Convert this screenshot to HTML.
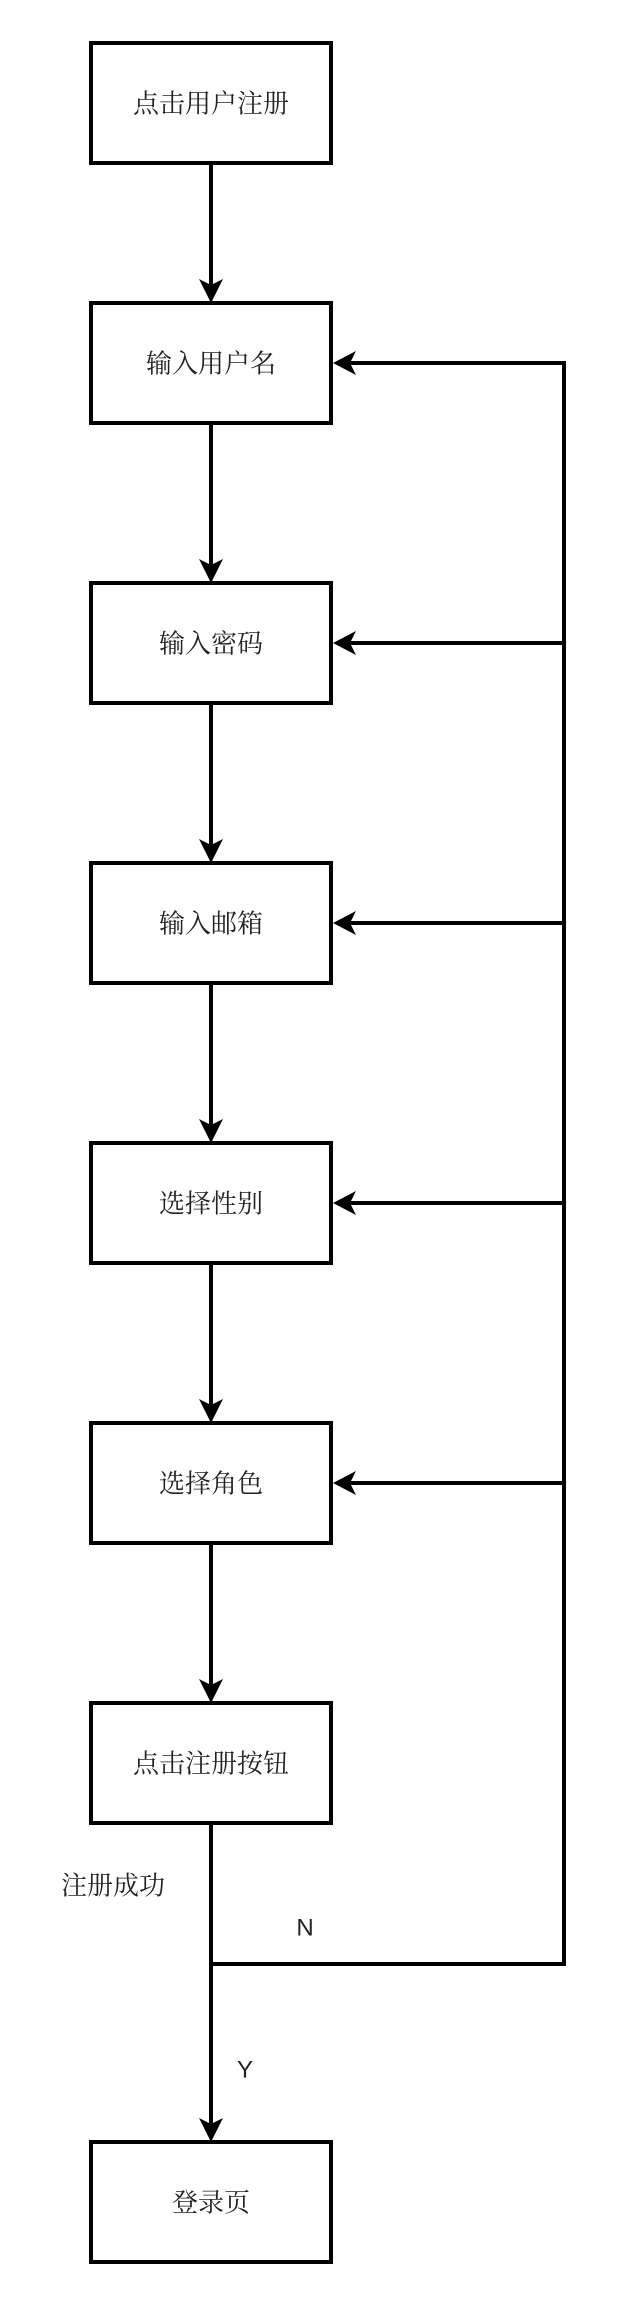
<!DOCTYPE html>
<html><head><meta charset="utf-8"><style>
html,body{margin:0;padding:0;background:#fff;}
svg{display:block;}
text{font-family:"Liberation Serif","Noto Serif CJK SC","Noto Sans CJK SC",serif;fill:#222;}
.l{font-family:"Liberation Sans",sans-serif;}
</style></head><body>
<svg width="620" height="2304" viewBox="0 0 620 2304" xmlns="http://www.w3.org/2000/svg">
<g fill="#fff" stroke="#000" stroke-width="4">
<rect x="91" y="43" width="240" height="120"/>
<rect x="91" y="303" width="240" height="120"/>
<rect x="91" y="583" width="240" height="120"/>
<rect x="91" y="863" width="240" height="120"/>
<rect x="91" y="1143" width="240" height="120"/>
<rect x="91" y="1423" width="240" height="120"/>
<rect x="91" y="1703" width="240" height="120"/>
<rect x="91" y="2142" width="240" height="120"/>
</g>
<g stroke="#000" stroke-width="4" fill="none">
<line x1="211" y1="163" x2="211" y2="290"/>
<line x1="211" y1="423" x2="211" y2="570"/>
<line x1="211" y1="703" x2="211" y2="850"/>
<line x1="211" y1="983" x2="211" y2="1130"/>
<line x1="211" y1="1263" x2="211" y2="1410"/>
<line x1="211" y1="1543" x2="211" y2="1690"/>
<line x1="211" y1="1823" x2="211" y2="2129"/>
<polyline points="211,1964 564,1964 564,363 345,363"/>
<line x1="564" y1="643" x2="345" y2="643"/>
<line x1="564" y1="923" x2="345" y2="923"/>
<line x1="564" y1="1203" x2="345" y2="1203"/>
<line x1="564" y1="1483" x2="345" y2="1483"/>
</g>
<g fill="#000">
<path d="M211,303 L199,279 L211,285 L223,279 Z"/>
<path d="M211,583 L199,559 L211,565 L223,559 Z"/>
<path d="M211,863 L199,839 L211,845 L223,839 Z"/>
<path d="M211,1143 L199,1119 L211,1125 L223,1119 Z"/>
<path d="M211,1423 L199,1399 L211,1405 L223,1399 Z"/>
<path d="M211,1703 L199,1679 L211,1685 L223,1679 Z"/>
<path d="M211,2142 L199,2118 L211,2124 L223,2118 Z"/>
<path d="M333,363 L356,351 L350,363 L356,375 Z"/>
<path d="M333,643 L356,631 L350,643 L356,655 Z"/>
<path d="M333,923 L356,911 L350,923 L356,935 Z"/>
<path d="M333,1203 L356,1191 L350,1203 L356,1215 Z"/>
<path d="M333,1483 L356,1471 L350,1483 L356,1495 Z"/>
</g>
<g font-size="26" text-anchor="middle" dominant-baseline="central">
<text x="211" y="104">点击用户注册</text>
<text x="211" y="364">输入用户名</text>
<text x="211" y="644">输入密码</text>
<text x="211" y="924">输入邮箱</text>
<text x="211" y="1204">选择性别</text>
<text x="211" y="1484">选择角色</text>
<text x="211" y="1764">点击注册按钮</text>
<text x="211" y="2203">登录页</text>
<text x="113" y="1886">注册成功</text>
<text class="l" x="305" y="1928" font-size="24">N</text>
<text class="l" x="245" y="2070" font-size="24">Y</text>
</g>
</svg>
</body></html>
